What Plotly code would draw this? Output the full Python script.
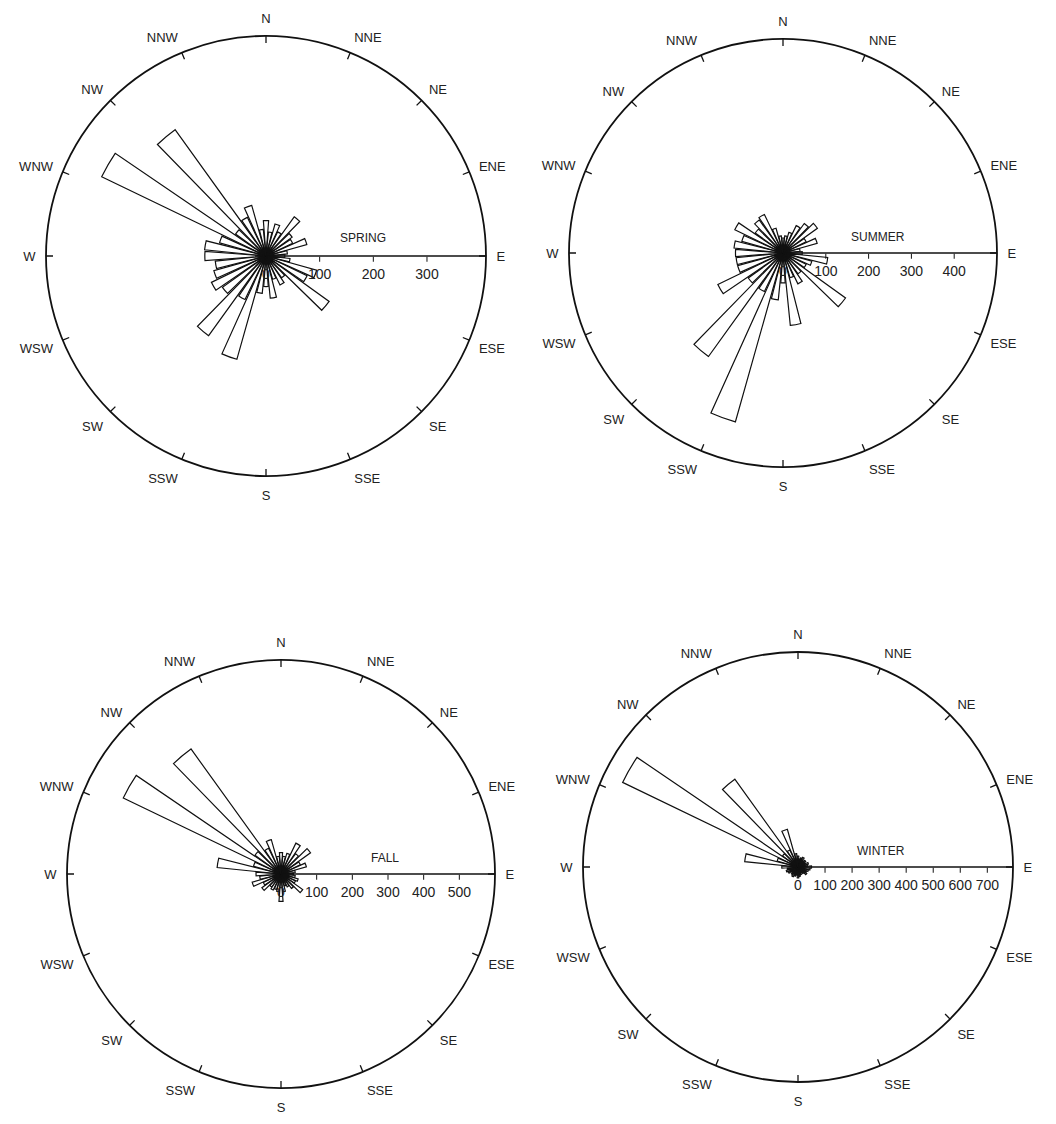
import plotly.graph_objects as go

# ---------------- data ----------------
directions = list(range(0, 360, 10))
compass_vals = [i * 22.5 for i in range(16)]
compass_labels = ["N", "NNE", "NE", "ENE", "E", "ESE", "SE", "SSE",
                  "S", "SSW", "SW", "WSW", "W", "WNW", "NW", "NNW"]

seasons = ["SPRING", "SUMMER", "FALL", "WINTER"]

spring = [66, 45, 62, 50, 90, 60, 55, 79, 40, 35, 45, 98,
          85, 145, 50, 60, 45, 79, 57, 70, 200, 90, 183, 100,
          113, 101, 95, 114, 115, 90, 340, 70, 290, 80, 98, 50]
summer = [35, 40, 50, 71, 85, 99, 60, 83, 40, 45, 105, 70,
          60, 180, 60, 80, 60, 170, 70, 110, 410, 100, 298, 100,
          169, 110, 110, 111, 115, 100, 125, 80, 95, 100, 60, 40]
fall = [60, 50, 60, 96, 70, 102, 60, 74, 40, 35, 40, 50,
        45, 75, 50, 40, 35, 50, 77, 50, 45, 50, 45, 66,
        55, 84, 60, 70, 180, 80, 491, 90, 432, 80, 100, 50]
winter = [40, 30, 35, 40, 30, 35, 30, 40, 35, 50, 45, 40,
          35, 40, 30, 25, 30, 35, 40, 30, 35, 40, 35, 30,
          40, 45, 40, 60, 198, 80, 720, 70, 400, 70, 145, 50]

season_values = [spring, summer, fall, winter]
radial_max = [410, 500, 600, 795]
radial_ticks = [[0, 100, 200, 300],
                [0, 100, 200, 300, 400],
                [0, 100, 200, 300, 400, 500],
                [0, 100, 200, 300, 400, 500, 600, 700]]

# ---------------- layout geometry (pixels, page coords) ----------------
W, H = 1056, 1124
PAGE_OFF = 8  # default body margin of the html page
centers = [(266, 256), (783, 253), (281, 874), (798, 867)]
radii = [220, 214, 214, 215]
label_offsets = [(97, -18), (95, -16), (104, -16), (83, -16)]
TICK_PX = 7

fig = go.Figure()
layout_polars = {}
annotations = []
font_family = "Liberation Sans, Arial, sans-serif"

for i, (name, vals) in enumerate(zip(seasons, season_values)):
    pid = "polar" if i == 0 else f"polar{i+1}"
    cx, cy = centers[i]
    cx -= PAGE_OFF
    cy -= PAGE_OFF
    rr = radii[i]
    rmax = radial_max[i]

    fig.add_trace(go.Barpolar(
        r=vals, theta=directions, width=[8.5] * len(vals),
        marker=dict(color="rgba(255,255,255,0)",
                    line=dict(color="#111111", width=1.2)),
        subplot=pid, showlegend=False, hoverinfo="r+theta"))

    # inward compass tick marks on the rim
    tr, tt = [], []
    r_in = rmax * (1 - TICK_PX / rr)
    for a in compass_vals:
        tr += [r_in, rmax, None]
        tt += [a, a, None]
    fig.add_trace(go.Scatterpolar(
        r=tr, theta=tt, mode="lines",
        line=dict(color="#111", width=1.3),
        subplot=pid, showlegend=False, hoverinfo="skip"))

    dom_x = [(cx - rr) / W, (cx + rr) / W]
    dom_y = [1 - (cy + rr) / H, 1 - (cy - rr) / H]
    layout_polars[pid] = dict(
        domain=dict(x=dom_x, y=dom_y),
        bgcolor="white",
        angularaxis=dict(
            rotation=90, direction="clockwise",
            tickmode="array", tickvals=compass_vals, ticktext=compass_labels,
            ticks="outside", ticklen=7, tickcolor="rgba(0,0,0,0)",
            showgrid=False, showline=True, linecolor="#111", linewidth=1.8,
            tickfont=dict(family=font_family, size=13, color="#222")),
        radialaxis=dict(
            range=[0, rmax], angle=0, side="clockwise",
            tickmode="array", tickvals=radial_ticks[i],
            ticks="outside", ticklen=5, tickwidth=1, tickcolor="#111",
            showgrid=False, showline=True, linecolor="#111", linewidth=1.5,
            tickfont=dict(family=font_family, size=14, color="#222")),
    )
    ox, oy = label_offsets[i]
    annotations.append(dict(
        text=name, x=(cx + ox) / W, y=1 - (cy + oy) / H,
        xref="paper", yref="paper", showarrow=False,
        xanchor="center", yanchor="middle",
        font=dict(family=font_family, size=12, color="#222")))

fig.update_layout(
    width=W, height=H,
    margin=dict(l=0, r=0, t=0, b=0),
    paper_bgcolor="white",
    annotations=annotations,
    **layout_polars)

fig.write_html("out.html")
